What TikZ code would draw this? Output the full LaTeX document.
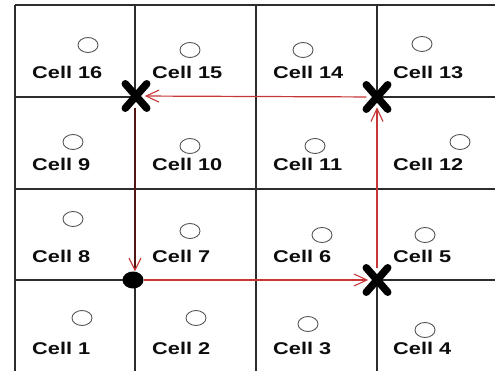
\documentclass[tikz,border=0pt]{standalone}
\usepackage{fontspec}
\setmainfont{Liberation Sans}
\usepackage{graphicx}
\usetikzlibrary{shapes.misc,shapes.geometric,arrows.meta}
\definecolor{gridgray}{RGB}{45,45,45}
\definecolor{pathred}{RGB}{200,55,55}
\definecolor{maroon}{RGB}{85,20,20}
\definecolor{dotgray}{RGB}{85,85,85}
\begin{document}
\begin{tikzpicture}[x=1pt,y=-1pt,
  gridline/.style={draw=gridgray,line width=1.3pt},
  celllabel/.style={anchor=base west,inner sep=0pt,text=black!95,
    font=\bfseries\fontsize{17}{20}\selectfont},
  dotmark/.style={ellipse,draw=dotgray,line width=0.9pt,minimum width=20pt,minimum height=15pt,inner sep=0pt},
  xmark/.style={cross out,draw=black,line width=7.5pt,line cap=round,minimum width=14pt,minimum height=17pt,inner sep=0pt},
  startdot/.style={ellipse,fill=black,minimum width=21pt,minimum height=17pt,inner sep=0pt},
  redarrow/.style={draw=pathred,line width=1.2pt,shorten >=-2pt,-{Straight Barb[length=13pt,width=12pt,line width=1.1pt]}},
  darkarrow/.style={draw=maroon,line width=2.3pt,-{Straight Barb[length=12pt,width=12pt,line width=1.1pt,color=pathred]}}
]
\useasboundingbox[fill=white] (0,0) rectangle (495,371);
% grid
\draw[gridline] (15,5) -- (15,371);
\draw[gridline] (135,5) -- (135,97);
\draw[gridline] (135,280) -- (135,371);
\draw[gridline] (256,5) -- (256,371);
\draw[gridline] (377,5) -- (377,97);
\draw[gridline] (377,280) -- (377,371);
\draw[gridline] (15,5) -- (495,5);
\draw[gridline] (15,97) -- (135,97);
\draw[gridline] (377,97) -- (495,97);
\draw[gridline] (15,189) -- (495,189);
\draw[gridline] (15,280) -- (135,280);
\draw[gridline] (377,280) -- (495,280);
% circles
\node[dotmark] (o16) at (88,45) {};
\node[dotmark] (o15) at (190,50) {};
\node[dotmark] (o14) at (303,50) {};
\node[dotmark] (o13) at (422,44) {};
\node[dotmark] (o9) at (73,142) {};
\node[dotmark] (o10) at (190,146) {};
\node[dotmark] (o11) at (315,146) {};
\node[dotmark] (o12) at (460,142) {};
\node[dotmark] (o8) at (73,219) {};
\node[dotmark] (o7) at (190,231) {};
\node[dotmark] (o6) at (322,235) {};
\node[dotmark] (o5) at (425,235) {};
\node[dotmark] (o1) at (82,318) {};
\node[dotmark] (o2) at (196,318) {};
\node[dotmark] (o3) at (308,324) {};
\node[dotmark] (o4) at (425,330) {};
% labels
\node[celllabel] (l16) at (32,79) {\scalebox{1.28}[1]{Cell 16}};
\node[celllabel] (l15) at (152,79) {\scalebox{1.28}[1]{Cell 15}};
\node[celllabel] (l14) at (273,79) {\scalebox{1.28}[1]{Cell 14}};
\node[celllabel] (l13) at (393,79) {\scalebox{1.28}[1]{Cell 13}};
\node[celllabel] (l9) at (32,171) {\scalebox{1.28}[1]{Cell 9}};
\node[celllabel] (l10) at (152,171) {\scalebox{1.28}[1]{Cell 10}};
\node[celllabel] (l11) at (273,171) {\scalebox{1.28}[1]{Cell 11}};
\node[celllabel] (l12) at (393,171) {\scalebox{1.28}[1]{Cell 12}};
\node[celllabel] (l8) at (32,263) {\scalebox{1.28}[1]{Cell 8}};
\node[celllabel] (l7) at (152,263) {\scalebox{1.28}[1]{Cell 7}};
\node[celllabel] (l6) at (273,263) {\scalebox{1.28}[1]{Cell 6}};
\node[celllabel] (l5) at (393,263) {\scalebox{1.28}[1]{Cell 5}};
\node[celllabel] (l1) at (32,354) {\scalebox{1.28}[1]{Cell 1}};
\node[celllabel] (l2) at (152,354) {\scalebox{1.28}[1]{Cell 2}};
\node[celllabel] (l3) at (273,354) {\scalebox{1.28}[1]{Cell 3}};
\node[celllabel] (l4) at (393,354) {\scalebox{1.28}[1]{Cell 4}};
% markers
\node[startdot] (a) at (133,280) {};
\node[xmark] (b) at (377,280) {};
\node[xmark] (c) at (377,97) {};
\node[xmark] (d) at (136,96) {};
% path
\draw[redarrow] (a) -- (b);
\draw[redarrow] (b) -- (c);
\draw[redarrow] (c) -- (d);
\draw[darkarrow] (d.south -| 135,0) -- (a.north -| 135,0);
\end{tikzpicture}
\end{document}
